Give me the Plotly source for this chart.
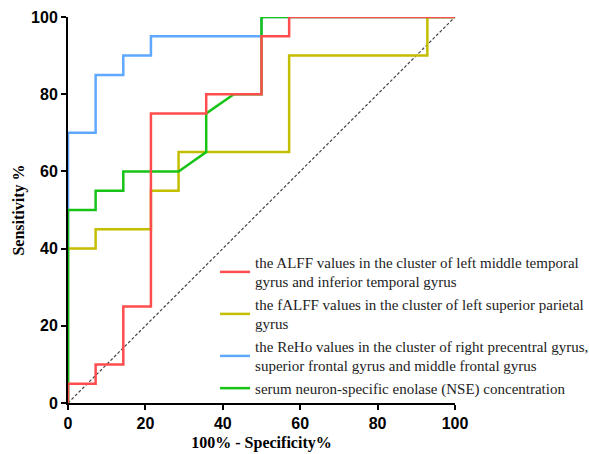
import plotly.graph_objects as go

# False positive rate steps (100% - Specificity%), 14 negatives
alff_x = [0, 0, 7.14, 7.14, 14.29, 14.29, 21.43, 21.43, 35.71, 35.71, 50, 50, 57.14, 57.14, 100]
alff_y = [0, 5, 5, 10, 10, 25, 25, 75, 75, 80, 80, 95, 95, 100, 100]

falff_x = [0, 0, 7.14, 7.14, 21.43, 21.43, 28.57, 28.57, 57.14, 57.14, 92.86, 92.86, 100]
falff_y = [0, 40, 40, 45, 45, 55, 55, 65, 65, 90, 90, 100, 100]

reho_x = [0, 0, 7.14, 7.14, 14.29, 14.29, 21.43, 21.43, 50, 50, 100]
reho_y = [0, 70, 70, 85, 85, 90, 90, 95, 95, 100, 100]

nse_x = [0, 0, 7.14, 7.14, 14.29, 14.29, 28.57, 35.71, 35.71, 42.86, 50, 50, 100]
nse_y = [0, 50, 50, 55, 55, 60, 60, 65, 75, 80, 80, 100, 100]

ref_x = [0, 100]
ref_y = [0, 100]

tick_vals = [0, 20, 40, 60, 80, 100]

names = [
    "the ALFF values in the cluster of left middle temporal<br>gyrus and inferior temporal gyrus",
    "the fALFF values in the cluster of left superior parietal<br>gyrus",
    "the ReHo values in the cluster of right precentral gyrus,<br>superior frontal gyrus and middle frontal gyrus",
    "serum neuron-specific enolase (NSE) concentration",
]
colors = ["#FF4D4D", "#C4BE00", "#5FA8FF", "#17C317"]

fig = go.Figure()
fig.add_trace(go.Scatter(x=ref_x, y=ref_y, mode="lines", showlegend=False,
                         line=dict(color="#444444", width=1.2, dash="3px,2px"), cliponaxis=False))

series = {
    0: (alff_x, alff_y),
    1: (falff_x, falff_y),
    2: (reho_x, reho_y),
    3: (nse_x, nse_y),
}
draw_order = [2, 1, 3, 0]
for i in draw_order:
    xs, ys = series[i]
    fig.add_trace(go.Scatter(x=xs, y=ys, mode="lines", name=names[i], legendrank=i + 1,
                             line=dict(color=colors[i], width=2.5), cliponaxis=False))

serif = "Liberation Serif, Times New Roman, serif"
sans = "Liberation Sans, Arial, sans-serif"

fig.update_layout(
    width=589, height=454,
    margin=dict(l=68, r=134, t=17, b=51, autoexpand=False),
    plot_bgcolor="white", paper_bgcolor="white",
    showlegend=True,
    legend=dict(x=0.38, y=0.407, xanchor="left", yanchor="top",
                font=dict(family=serif, size=15, color="#222222"),
                bgcolor="rgba(0,0,0,0)", tracegroupgap=0, traceorder="normal"),
)
common = dict(range=[0, 100], tickvals=tick_vals, showgrid=False, zeroline=False,
              showline=True, linecolor="black", linewidth=2, ticks="outside", ticklen=5,
              tickwidth=2, tickcolor="black", layer="below traces", automargin=False,
              tickfont=dict(family=sans, size=16, color="black", weight="bold"))
fig.update_xaxes(**common,
                 title=dict(text="<b>100% - Specificity%</b>",
                            font=dict(family=serif, size=16, color="black"),
                            standoff=6))
fig.update_yaxes(**common,
                 title=dict(text="<b>Sensitivity %</b>",
                            font=dict(family=serif, size=16, color="black"),
                            standoff=2))

fig.write_html("out.html", config={"displayModeBar": False},
               post_script="document.body.style.margin='0';document.body.style.overflow='hidden';")
